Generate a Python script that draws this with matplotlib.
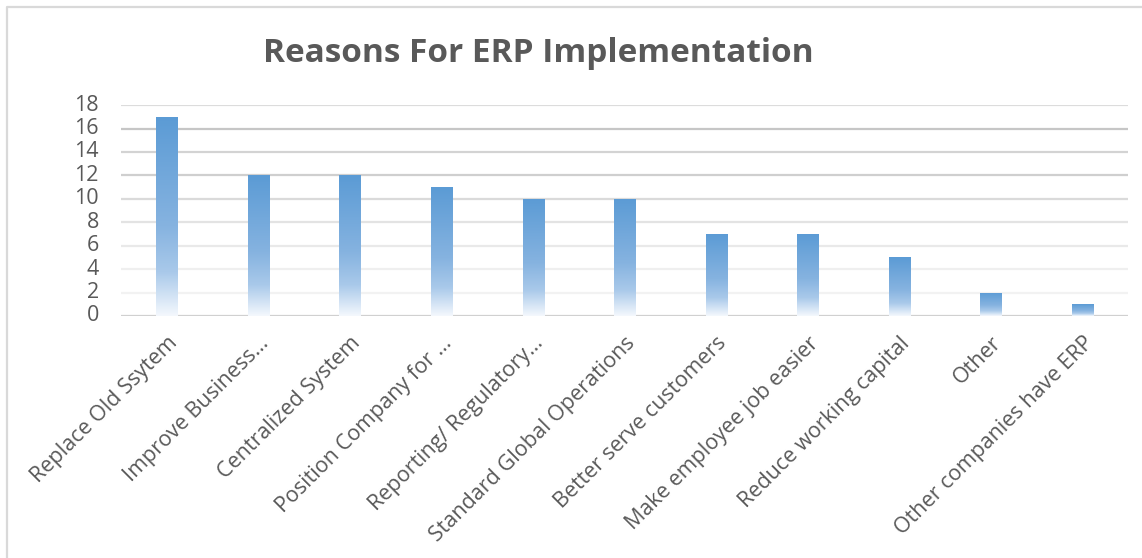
import numpy as np
import matplotlib
matplotlib.use("Agg")
import matplotlib.pyplot as plt
from matplotlib.colors import LinearSegmentedColormap
from matplotlib.lines import Line2D

plt.rcParams['font.family'] = ['Open Sans', 'DejaVu Sans']

# data
reasons = ["Replace Old Ssytem", "Improve Business\u2026", "Centralized System",
           "Position Company for \u2026", "Reporting/ Regulatory\u2026",
           "Standard Global Operations", "Better serve customers",
           "Make employee job easier", "Reduce working capital",
           "Other", "Other companies have ERP"]
counts = [17, 12, 12, 11, 10, 10, 7, 7, 5, 2, 1]
yticks = [0, 2, 4, 6, 8, 10, 12, 14, 16, 18]

# gridline shades, excel style gradient line (light at bottom)
grid_colors = ["#d0d0d0", "#f2f2f2", "#efefef", "#e9e9e9", "#e3e3e3",
               "#dadada", "#cfcfcf", "#d3d3d3", "#c6c6c6", "#dcdcdc"]

fig = plt.figure(figsize=(11.42, 5.58), dpi=100)
# chart frame: only the left and top edges show in the screenshot
fig.lines.append(Line2D([7 / 1142, 7 / 1142, 1.0], [0.0, 1 - 7 / 558, 1 - 7 / 558],
                        transform=fig.transFigure, color="#d9d9d9", linewidth=1.6))

ax = fig.add_axes([0.106, 0.4337, 0.882, 0.378])
x = np.arange(len(reasons))

for yv, c in zip(yticks, grid_colors):
    ax.axhline(yv, color=c, linewidth=1.6, zorder=0)

# gradient fill: blue on top, fading to white at the bottom of each bar
cmap = LinearSegmentedColormap.from_list(
    "erp", [(0.0, "#f4f8fd"), (0.22, "#a9c9ea"), (0.45, "#86b3e0"),
            (1.0, "#5b9bd5")])
grad = np.linspace(0, 1, 256).reshape(-1, 1)

bars = ax.bar(x, counts, width=0.23, color="none", edgecolor="none", zorder=2)
for b in bars:
    x0, y0 = b.get_x(), b.get_y()
    w, h = b.get_width(), b.get_height()
    im = ax.imshow(grad, cmap=cmap, aspect="auto", origin="lower",
                   extent=(x0, x0 + w, y0, y0 + h), zorder=2)
    im.set_clip_path(b)

ax.set_xlim(-0.5, len(reasons) - 0.5)
ax.set_ylim(0, 18)
ax.set_yticks(yticks)
ax.set_xticks(x)
ax.set_xticklabels(reasons, rotation=45, ha="right", rotation_mode="anchor")
ax.tick_params(axis="both", length=0, labelsize=15.5, labelcolor="#595959")
ax.tick_params(axis="x", pad=12)
ax.tick_params(axis="y", pad=16)
for lab in ax.get_yticklabels():
    lab.set_verticalalignment("center")
for s in ax.spines.values():
    s.set_visible(False)

fig.text(0.471, 0.905, "Reasons For ERP Implementation", ha="center",
         va="center", fontsize=24, fontweight="bold", color="#595959")

fig.savefig("out.png", dpi=100)
